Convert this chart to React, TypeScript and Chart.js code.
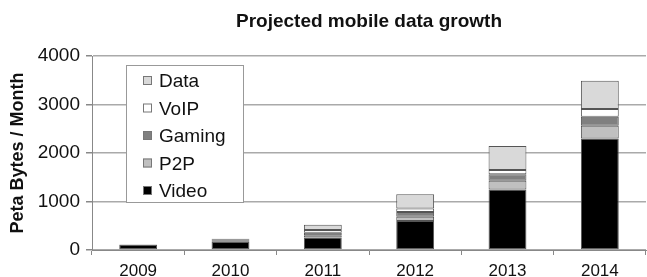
import React, { useEffect, useRef } from "react";
import { Chart, registerables } from "chart.js";

Chart.register(...registerables);

const categories = ["2009", "2010", "2011", "2012", "2013", "2014"];
const video = [110, 170, 260, 600, 1250, 2300];
const p2p = [5, 15, 45, 85, 180, 260];
const gaming = [3, 15, 50, 100, 130, 185];
const voip = [2, 10, 55, 70, 90, 160];
const dataSeries = [0, 20, 110, 295, 495, 585];
const yTicks = [0, 500, 1000, 1500, 2000, 2500, 3000, 3500, 4000];

const chartTitle = "Projected mobile data growth";
const yTitle = "Peta Bytes / Month";
const FONT = "'Liberation Sans', Arial, sans-serif";

const titlePlugin = {
  id: "centeredTitle",
  afterDraw(chart: any) {
    const { ctx, chartArea } = chart;
    ctx.save();
    ctx.font = `bold 19px ${FONT}`;
    ctx.fillStyle = "#111";
    ctx.textAlign = "center";
    ctx.textBaseline = "middle";
    ctx.fillText(chartTitle, (chartArea.left + chartArea.right) / 2, 22);
    ctx.restore();
  },
};

const legendPlugin = {
  id: "boxLegend",
  afterDatasetsDraw(chart: any) {
    const { ctx, chartArea } = chart;
    const x = chartArea.left + 34;
    const y = chartArea.top + 9;
    const w = 118;
    const h = 138;
    ctx.save();
    ctx.fillStyle = "#fff";
    ctx.fillRect(x, y, w, h);
    ctx.strokeStyle = "#999";
    ctx.lineWidth = 1;
    ctx.strokeRect(x + 0.5, y + 0.5, w - 1, h - 1);
    const ds = chart.data.datasets.slice().reverse();
    ctx.font = `19px ${FONT}`;
    ctx.textBaseline = "middle";
    ctx.textAlign = "left";
    ds.forEach((d: any, i: number) => {
      const cy = y + 16 + i * 27.5;
      ctx.fillStyle = d.backgroundColor;
      ctx.fillRect(x + 17, cy - 5, 9, 9);
      ctx.strokeStyle = "#777";
      ctx.strokeRect(x + 17.5, cy - 4.5, 8, 8);
      ctx.fillStyle = "#111";
      ctx.fillText(d.label, x + 33, cy + 1);
    });
    ctx.restore();
  },
};

export default function App() {
  const ref = useRef<HTMLCanvasElement>(null);
  useEffect(() => {
    if (!ref.current) return;
    const mk = (label: string, values: number[], color: string) => ({
      label,
      data: values,
      backgroundColor: color,
      borderColor: "#555",
      borderWidth: 1,
      borderSkipped: false,
      categoryPercentage: 1,
      barPercentage: 0.41,
    });
    const chart = new Chart(ref.current, {
      type: "bar",
      data: {
        labels: categories,
        datasets: [
          mk("Video", video, "#000000"),
          mk("P2P", p2p, "#c0c0c0"),
          mk("Gaming", gaming, "#808080"),
          mk("VoIP", voip, "#ffffff"),
          mk("Data", dataSeries, "#d9d9d9"),
        ],
      },
      options: {
        animation: false,
        responsive: false,
        maintainAspectRatio: false,
        layout: { padding: { top: 56, left: 0, right: 1, bottom: 0 } },
        plugins: {
          legend: { display: false },
          title: { display: false },
          tooltip: { enabled: false },
        },
        scales: {
          x: {
            stacked: true,
            offset: true,
            grid: {
              offset: true,
              drawOnChartArea: false,
              tickLength: 5,
              color: "#888",
              lineWidth: 1,
            },
            border: { color: "#888", width: 1 },
            ticks: {
              color: "#111",
              padding: 6,
              font: { family: FONT, size: 17 },
              maxRotation: 0,
            },
            afterFit(scale: any) {
              scale.height = 27;
            },
          },
          y: {
            stacked: true,
            min: 0,
            max: 4000,
            afterBuildTicks(scale: any) {
              scale.ticks = yTicks.map((v) => ({ value: v }));
            },
            grid: {
              color: "#aaa",
              lineWidth: 1.5,
              tickLength: 6,
              tickColor: "#888",
            },
            border: { color: "#888", width: 1 },
            ticks: {
              color: "#111",
              padding: 6,
              font: { family: FONT, size: 19 },
              callback: (v: any) => String(v),
            },
            title: {
              display: true,
              text: yTitle,
              color: "#111",
              font: { family: FONT, size: 18, weight: "bold" },
              padding: { top: 7, bottom: 0 },
            },
            afterFit(scale: any) {
              scale.width = 92;
            },
          },
        },
      },
      plugins: [legendPlugin, titlePlugin],
    });
    return () => chart.destroy();
  }, []);
  return (
    <div style={{ position: "absolute", left: 0, top: 0, width: 647, height: 277, background: "#fff" }}>
      <canvas ref={ref} width={647} height={277} style={{ width: 647, height: 277, display: "block" }} />
    </div>
  );
}
